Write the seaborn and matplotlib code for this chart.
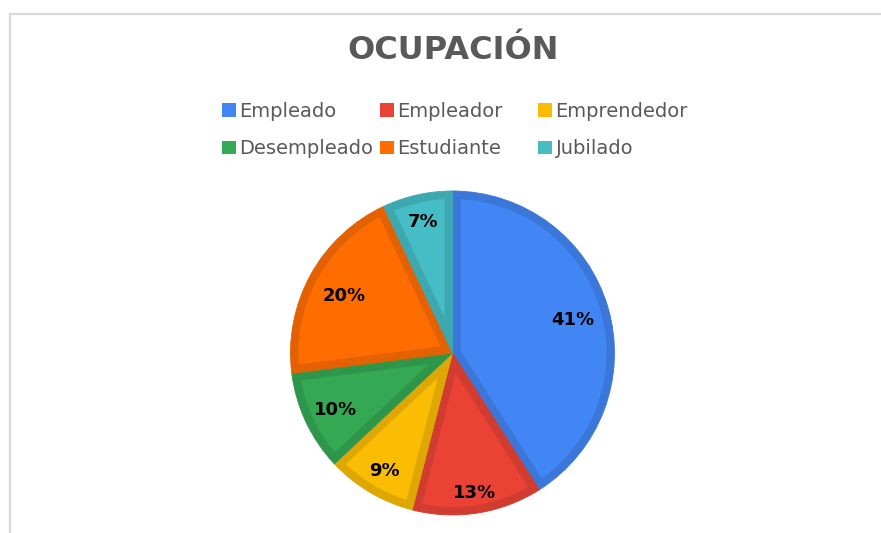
import matplotlib
matplotlib.use("Agg")
import matplotlib.pyplot as plt
import seaborn as sns
import numpy as np
from matplotlib.patches import Patch, Rectangle, Polygon

# Datos
categorias = ['Empleado', 'Empleador', 'Emprendedor', 'Desempleado', 'Estudiante', 'Jubilado']
porcentajes = [41, 13, 9, 10, 20, 7]
colores_hex = ['#4285F4', '#EA4335', '#FBBC04', '#34A853', '#FF6D01', '#46BDC6']
titulo = 'OCUPACIÓN'

sns.set_theme(style='white')
plt.rcParams['font.family'] = ['DejaVu Sans']

palette = sns.color_palette(colores_hex)
bordes = [tuple(np.array(c) * 0.89) for c in palette]


def relleno_interior(w, d):
    """Polígono de la porción desplazado hacia dentro una distancia d (borde interior)."""
    t1, t2 = np.deg2rad(w.theta1), np.deg2rad(w.theta2)
    r = w.r
    mitad = (t2 - t1) / 2
    bis = t1 + mitad
    punta = d / np.sin(mitad)
    alfa = np.arcsin(d / (r - d))
    arco = np.linspace(t1 + alfa, t2 - alfa, 120)
    xs = [punta * np.cos(bis)] + list((r - d) * np.cos(arco))
    ys = [punta * np.sin(bis)] + list((r - d) * np.sin(arco))
    return np.column_stack([xs, ys])


fig = plt.figure(figsize=(8.81, 5.33), dpi=100)
fig.patch.set_facecolor('white')

# marco gris del gráfico (solo se ven los bordes superior e izquierdo)
fig.add_artist(Rectangle((10 / 881, -0.1), 1.2, 1 - 14 / 533 + 0.1,
                         transform=fig.transFigure, fill=False,
                         edgecolor='#d9d9d9', linewidth=1.6))

# ejes del pastel: centro (452, 353) px, radio ~162 px
radio_px = 162
lim = 1.05
half = radio_px * lim
ax = fig.add_axes([(452.5 - half) / 881, (180 - half) / 533, 2 * half / 881, 2 * half / 533])

# porciones completas en el color del borde
wedges, texts, autotexts = ax.pie(
    porcentajes, colors=bordes, startangle=90, counterclock=False,
    autopct='%1.0f%%', pctdistance=0.82,
    textprops={'fontsize': 13, 'fontweight': 'bold', 'color': 'black'},
)
# relleno interior de cada porción (deja un borde de ~8 px)
grosor = 8 / radio_px
for w, c in zip(wedges, palette):
    w.set_edgecolor(w.get_facecolor())
    w.set_linewidth(0.6)
    ax.add_patch(Polygon(relleno_interior(w, grosor), closed=True,
                         facecolor=c, edgecolor='none'))

# distancia radial de cada etiqueta (como en el original)
radios_etiqueta = [0.77, 0.86, 0.83, 0.80, 0.76, 0.84]
for w, t, r in zip(wedges, autotexts, radios_etiqueta):
    ang = np.deg2rad((w.theta1 + w.theta2) / 2)
    t.set_position((r * np.cos(ang), r * np.sin(ang) - 0.012))

ax.set_xlim(-lim, lim)
ax.set_ylim(-lim, lim)
ax.set_aspect('equal')
ax.axis('off')

fig.text(453 / 881, 1 - 59 / 533, titulo, ha='center', va='baseline',
         fontsize=23, fontweight='bold', color='#595959')

# leyenda: 3 columnas de ancho fijo, ordenada por filas
handles = [Patch(facecolor=c, edgecolor='none') for c in palette]
col_x = [222, 380, 538]
for j, x in enumerate(col_x):
    idx = [j, j + 3]
    leg = fig.legend([handles[i] for i in idx], [categorias[i] for i in idx],
                     loc='upper left', bbox_to_anchor=(x / 881, 1 - 102 / 533),
                     frameon=False, fontsize=14, handlelength=0.7, handleheight=0.7,
                     handletextpad=0.2, labelspacing=0.95, borderaxespad=0,
                     borderpad=0)
    for t in leg.get_texts():
        t.set_color('#595959')

fig.savefig('out.png', dpi=100, facecolor='white')
